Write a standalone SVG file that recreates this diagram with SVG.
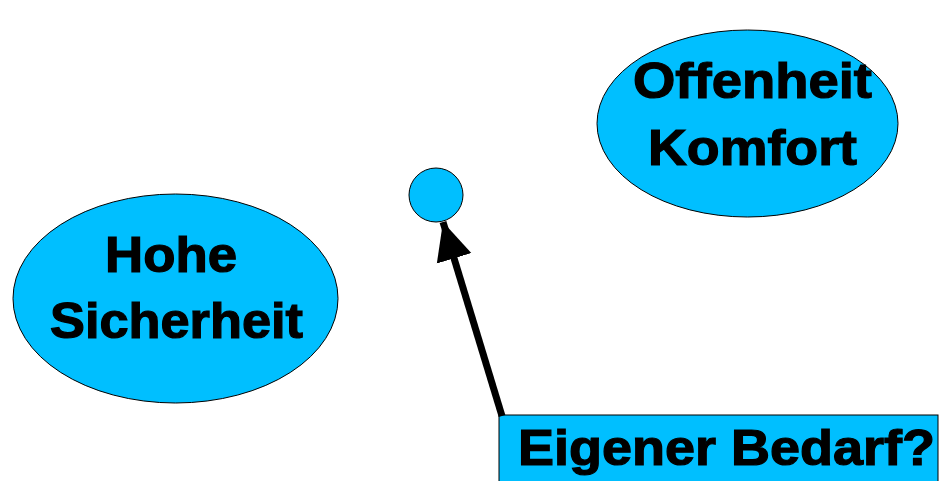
<svg xmlns="http://www.w3.org/2000/svg" width="946" height="481" viewBox="0 0 946 481">
<style>
.shape{fill:#00bfff;stroke:#000;stroke-width:1}
.t{font-family:"Liberation Sans",Arial,sans-serif;font-weight:bold;font-size:50px;fill:#000;stroke:#000;stroke-width:1.2}
</style>
<defs>
<marker id="ah" markerUnits="userSpaceOnUse" markerWidth="40" markerHeight="40" refX="38" refY="18" orient="auto" viewBox="0 0 40 36">
<path d="M0,0 L38,18 L0,36 Z" fill="#000"/>
</marker>
</defs>
<rect width="946" height="481" fill="#fff"/>
<g id="node-sicherheit">
<ellipse class="shape" cx="175.5" cy="298.5" rx="162.5" ry="104.5"/>
<text class="t" x="105" y="272" textLength="132" lengthAdjust="spacingAndGlyphs">Hohe</text>
<text class="t" x="50" y="338" textLength="253" lengthAdjust="spacingAndGlyphs">Sicherheit</text>
</g>
<g id="node-offenheit">
<ellipse class="shape" cx="747.5" cy="123.5" rx="150.5" ry="93.5"/>
<text class="t" x="633" y="98" textLength="239" lengthAdjust="spacingAndGlyphs">Offenheit</text>
<text class="t" x="648" y="165" textLength="209" lengthAdjust="spacingAndGlyphs">Komfort</text>
</g>
<g id="node-circle">
<circle class="shape" cx="436" cy="195" r="27"/>
</g>
<g id="node-bedarf">
<rect class="shape" x="499" y="415" width="439" height="70"/>
<text class="t" x="518" y="465" textLength="417" lengthAdjust="spacingAndGlyphs">Eigener Bedarf?</text>
</g>
<g id="connectors">
<line x1="502" y1="416" x2="443" y2="222" stroke="#000" stroke-width="7" marker-end="url(#ah)"/>
</g>
</svg>
